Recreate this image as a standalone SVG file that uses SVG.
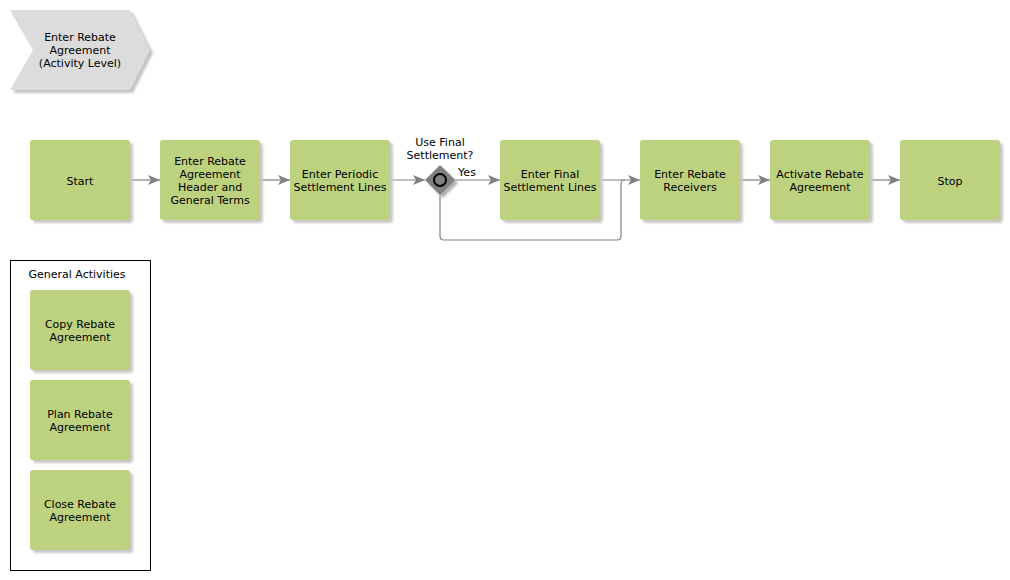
<svg xmlns="http://www.w3.org/2000/svg" width="1010" height="580" viewBox="0 0 1010 580">
<defs>
<style>
.box{fill:#bdd27e;}
.sh{fill:#c8c8c8;}
.t{font-family:"DejaVu Sans",Verdana,sans-serif;font-size:11px;fill:#000;text-anchor:middle;}
.c{fill:none;stroke:#808080;stroke-width:1.2;}
</style>
<marker id="ar" viewBox="0 0 12 10" refX="12" refY="5" markerWidth="12" markerHeight="10" markerUnits="userSpaceOnUse" orient="auto">
<path d="M0,0 L12,5 L0,10 L3,5 Z" fill="#808080"/>
</marker>
<filter id="blur" x="-10%" y="-10%" width="130%" height="130%"><feGaussianBlur stdDeviation="1"/></filter>
</defs>
<rect width="1010" height="580" fill="#fff"/>

<g id="title">
<polygon points="13,13 133,13 153,53 133,93 13,93 36,53" fill="#c4c4c4" filter="url(#blur)"/>
<polygon points="10,10 130,10 150,50 130,90 10,90 33,50" fill="#dcdcdc"/>
<text class="t" x="80" y="41">Enter Rebate</text>
<text class="t" x="80" y="54">Agreement</text>
<text class="t" x="80" y="67">(Activity Level)</text>
</g>

<g id="connectors">
<path class="c" d="M130,180 H160" marker-end="url(#ar)"/>
<path class="c" d="M260,180 H290" marker-end="url(#ar)"/>
<path class="c" d="M390,180 H425" marker-end="url(#ar)"/>
<path class="c" d="M455,180 H500" marker-end="url(#ar)"/>
<path class="c" d="M600,180 H640" marker-end="url(#ar)"/>
<path class="c" d="M440,195 V236 Q440,240 444,240 H617 Q621,240 621,236 V184 Q621,180 625,180"/>
<path class="c" d="M740,180 H770" marker-end="url(#ar)"/>
<path class="c" d="M870,180 H900" marker-end="url(#ar)"/>
<text class="t" x="467" y="176">Yes</text>
</g>

<g id="start">
<rect class="sh" x="33" y="143" width="100" height="80" rx="3" filter="url(#blur)"/>
<rect class="box" x="30" y="140" width="100" height="80" rx="3"/>
<text class="t" x="80" y="185">Start</text>
</g>
<g id="header">
<rect class="sh" x="163" y="143" width="100" height="80" rx="3" filter="url(#blur)"/>
<rect class="box" x="160" y="140" width="100" height="80" rx="3"/>
<text class="t" x="210" y="165">Enter Rebate</text>
<text class="t" x="210" y="178">Agreement</text>
<text class="t" x="210" y="191">Header and</text>
<text class="t" x="210" y="204">General Terms</text>
</g>
<g id="periodic">
<rect class="sh" x="293" y="143" width="100" height="80" rx="3" filter="url(#blur)"/>
<rect class="box" x="290" y="140" width="100" height="80" rx="3"/>
<text class="t" x="340" y="178">Enter Periodic</text>
<text class="t" x="340" y="191">Settlement Lines</text>
</g>
<g id="gateway">
<polygon points="443,168 458,183 443,198 428,183" fill="#b0b0b0" filter="url(#blur)"/>
<polygon points="440,165 455,180 440,195 425,180" fill="#808080"/>
<circle cx="440" cy="180" r="6" fill="#808080" stroke="#000" stroke-width="2"/>
<text class="t" x="440" y="146">Use Final</text>
<text class="t" x="440" y="159">Settlement?</text>
</g>
<g id="final">
<rect class="sh" x="503" y="143" width="100" height="80" rx="3" filter="url(#blur)"/>
<rect class="box" x="500" y="140" width="100" height="80" rx="3"/>
<text class="t" x="550" y="178">Enter Final</text>
<text class="t" x="550" y="191">Settlement Lines</text>
</g>
<g id="receivers">
<rect class="sh" x="643" y="143" width="100" height="80" rx="3" filter="url(#blur)"/>
<rect class="box" x="640" y="140" width="100" height="80" rx="3"/>
<text class="t" x="690" y="178">Enter Rebate</text>
<text class="t" x="690" y="191">Receivers</text>
</g>
<g id="activate">
<rect class="sh" x="773" y="143" width="100" height="80" rx="3" filter="url(#blur)"/>
<rect class="box" x="770" y="140" width="100" height="80" rx="3"/>
<text class="t" x="820" y="178">Activate Rebate</text>
<text class="t" x="820" y="191">Agreement</text>
</g>
<g id="stop">
<rect class="sh" x="903" y="143" width="100" height="80" rx="3" filter="url(#blur)"/>
<rect class="box" x="900" y="140" width="100" height="80" rx="3"/>
<text class="t" x="950" y="185">Stop</text>
</g>

<g id="general">
<rect x="10.5" y="260.5" width="140" height="310" fill="#fff" stroke="#000" stroke-width="1"/>
<text class="t" x="77" y="278">General Activities</text>
</g>
<g id="copy">
<rect class="sh" x="33" y="293" width="100" height="80" rx="3" filter="url(#blur)"/>
<rect class="box" x="30" y="290" width="100" height="80" rx="3"/>
<text class="t" x="80" y="328">Copy Rebate</text>
<text class="t" x="80" y="341">Agreement</text>
</g>
<g id="plan">
<rect class="sh" x="33" y="383" width="100" height="80" rx="3" filter="url(#blur)"/>
<rect class="box" x="30" y="380" width="100" height="80" rx="3"/>
<text class="t" x="80" y="418">Plan Rebate</text>
<text class="t" x="80" y="431">Agreement</text>
</g>
<g id="close">
<rect class="sh" x="33" y="473" width="100" height="80" rx="3" filter="url(#blur)"/>
<rect class="box" x="30" y="470" width="100" height="80" rx="3"/>
<text class="t" x="80" y="508">Close Rebate</text>
<text class="t" x="80" y="521">Agreement</text>
</g>
</svg>
